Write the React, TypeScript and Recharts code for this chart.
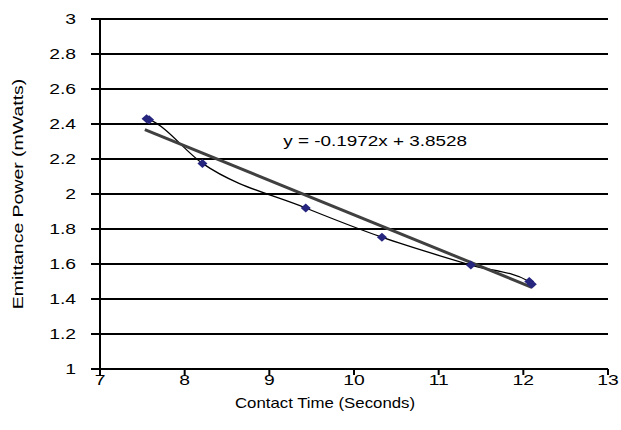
import { ComposedChart, Line, XAxis, YAxis, CartesianGrid, ReferenceDot } from "recharts";

// Measured points (contact time in seconds, emittance power in mWatts)
const contactTime = [7.55, 7.58, 8.21, 9.43, 10.33, 11.38, 12.07, 12.1];
const emittance = [2.43, 2.425, 2.175, 1.92, 1.753, 1.594, 1.5, 1.485];

// Linear trendline end points
const trendX = [7.53, 12.1];
const trendY = [2.368, 1.467];

const xTicks = [7, 8, 9, 10, 11, 12, 13];
const yTicks = [1, 1.2, 1.4, 1.6, 1.8, 2, 2.2, 2.4, 2.6, 2.8, 3];

const equation = "y = -0.1972x + 3.8528";
const xTitle = "Contact Time (Seconds)";
const yTitle = "Emittance Power (mWatts)";

const FONT = "'Liberation Sans', Arial, sans-serif";

const points = contactTime.map((x, i) => ({ x, y: emittance[i] }));
const trend = trendX.map((x, i) => ({ x, t: trendY[i] }));

// the original's text is drawn wide, so stretch it horizontally
function WideText({ x, y, text, size = 14, stretch = 1.38, anchor = "middle", rotate = 0 }: any) {
  return (
    <text
      transform={`translate(${x},${y}) rotate(${rotate}) scale(${stretch},1)`}
      textAnchor={anchor}
      dy="0.35em"
      fontSize={size}
      fontFamily={FONT}
      fill="#000"
    >
      {text}
    </text>
  );
}

const XTick = (props: any) => <WideText x={props.x} y={props.y} text={props.payload.value} />;
const YTick = (props: any) => <WideText x={props.x} y={props.y} text={props.payload.value} anchor="end" />;

// Excel-style diamond marker
const Diamond = (props: any) => {
  const { cx, cy } = props;
  if (cx == null || cy == null) return null;
  return (
    <polygon
      points={`${cx - 5},${cy} ${cx},${cy - 4.5} ${cx + 5},${cy} ${cx},${cy + 4.5}`}
      fill="#26267f"
    />
  );
};

export default function App() {
  return (
    <div style={{ position: "absolute", left: 0, top: 0, width: 621, height: 430, background: "#fff" }}>
      <ComposedChart
        width={621}
        height={430}
        margin={{ top: 19, right: 13, left: 0, bottom: 0 }}
        style={{ fontFamily: FONT }}
      >
        <CartesianGrid vertical={false} stroke="#000" strokeWidth={2} />
        <XAxis
          type="number"
          dataKey="x"
          domain={[7, 13]}
          ticks={xTicks}
          allowDataOverflow
          height={61}
          stroke="#000"
          strokeWidth={2}
          tickSize={6}
          tickMargin={5}
          tick={<XTick />}
          label={{
            content: ({ viewBox }: any) => (
              <WideText x={viewBox.x + viewBox.width / 2 - 29} y={viewBox.y + 34} text={xTitle} size={14} stretch={1.2} />
            ),
          }}
        />
        <YAxis
          type="number"
          domain={[1, 3]}
          ticks={yTicks}
          allowDataOverflow
          width={100}
          stroke="#000"
          strokeWidth={2}
          tickSize={9}
          tickMargin={15}
          tick={<YTick />}
          label={{
            content: ({ viewBox }: any) => (
              <WideText x={viewBox.x + 18} y={viewBox.y + viewBox.height / 2} text={yTitle} size={14} stretch={1.39} rotate={-90} />
            ),
          }}
        />
        <Line
          data={points}
          dataKey="y"
          type="monotone"
          stroke="#000"
          strokeWidth={1.3}
          dot={<Diamond />}
          activeDot={false}
          isAnimationActive={false}
        />
        <Line
          data={trend}
          dataKey="t"
          type="linear"
          stroke="#404040"
          strokeWidth={3}
          dot={false}
          activeDot={false}
          isAnimationActive={false}
        />
        <ReferenceDot
          x={10.25}
          y={2.3}
          r={0}
          fill="none"
          stroke="none"
          label={{
            content: ({ viewBox }: any) => (
              <WideText x={viewBox.x + (viewBox.width || 0) / 2} y={viewBox.y + (viewBox.height || 0) / 2} text={equation} size={14} stretch={1.35} />
            ),
          }}
        />
      </ComposedChart>
    </div>
  );
}
